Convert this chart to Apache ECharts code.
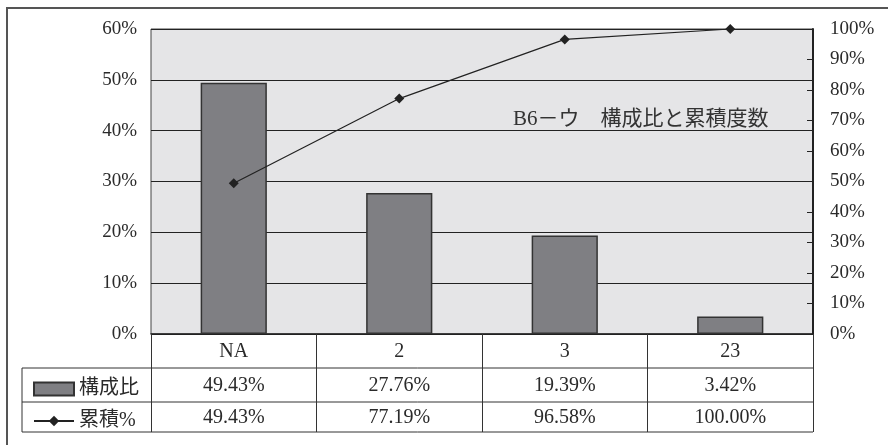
<!DOCTYPE html>
<html lang="ja">
<head>
<meta charset="UTF-8">
<title>B6－ウ 構成比と累積度数</title>
<script src="https://cdn.jsdelivr.net/npm/echarts@6/dist/echarts.min.js"></script>
<style>
  html, body { margin: 0; padding: 0; background: #fff; }
  #main { width: 888px; height: 445px; }
</style>
</head>
<body>
<div id="main"></div>
<script>
// データ
var categories = ['NA', '2', '3', '23'];
var shareValues = [49.43, 27.76, 19.39, 3.42];       // 構成比 (%)
var cumulativeValues = [49.43, 77.19, 96.58, 100.00]; // 累積 (%)
var leftTicks = [0, 10, 20, 30, 40, 50, 60];
var rightTicks = [0, 10, 20, 30, 40, 50, 60, 70, 80, 90, 100];

var FONT = '"Liberation Serif", "DejaVu Serif", "Noto Sans CJK JP", serif';
var INK = '#2a2a2a';

function pct(v) { return v.toFixed(2) + '%'; }

var myChart = echarts.init(document.getElementById('main'));

// 表の枠線（グリッドの下）
var gLeft = 151, gRight = 813, gBottom = 334, tableLeft = 22;
var rowLines = [368, 402, 432];
var tableLines = rowLines.map(function (y) {
    return {
        type: 'line',
        shape: { x1: tableLeft, y1: y, x2: gRight, y2: y },
        style: { stroke: '#333', lineWidth: 1 }
    };
});
tableLines.push({
    type: 'line',
    shape: { x1: tableLeft, y1: rowLines[0], x2: tableLeft, y2: rowLines[2] },
    style: { stroke: '#333', lineWidth: 1 }
});

var option = {
    animation: false,
    textStyle: { fontFamily: FONT, color: INK },
    title: {
        text: 'B6－ウ　構成比と累積度数',
        left: 508,
        top: 104,
        textStyle: { fontFamily: FONT, fontSize: 21, fontWeight: 'normal', color: '#333' }
    },
    legend: [{
        data: [{ name: '構成比', icon: 'rect' }],
        left: 28,
        top: 374,
        itemWidth: 40,
        itemHeight: 13,
        itemGap: 6,
        textStyle: { fontFamily: FONT, fontSize: 20, color: INK }
    }, {
        data: ['累積%'],
        left: 28,
        top: 406,
        itemWidth: 40,
        itemHeight: 13,
        textStyle: { fontFamily: FONT, fontSize: 20, color: INK }
    }],
    grid: {
        left: gLeft,
        right: 888 - gRight,
        top: 29,
        bottom: 445 - gBottom,
        show: true,
        backgroundColor: '#e5e5e7',
        borderColor: '#444',
        borderWidth: 1
    },
    xAxis: [{
        type: 'category',
        data: categories,
        position: 'bottom',
        axisLine: { show: true, lineStyle: { color: '#222', width: 1.5 } },
        axisTick: { show: true, inside: false, length: 98, lineStyle: { color: '#333', width: 1 } },
        axisLabel: { margin: 8, fontSize: 20, color: INK, fontFamily: FONT }
    }, {
        type: 'category',
        data: shareValues.map(pct),
        position: 'bottom',
        offset: 34,
        axisLine: { show: false },
        axisTick: { show: false },
        axisLabel: { margin: 8, fontSize: 20, color: INK, fontFamily: FONT }
    }, {
        type: 'category',
        data: cumulativeValues.map(pct),
        position: 'bottom',
        offset: 66,
        axisLine: { show: false },
        axisTick: { show: false },
        axisLabel: { margin: 8, fontSize: 20, color: INK, fontFamily: FONT }
    }],
    yAxis: [{
        type: 'value',
        min: leftTicks[0],
        max: leftTicks[leftTicks.length - 1],
        interval: 10,
        position: 'left',
        axisLine: { show: false },
        axisTick: { show: false },
        splitLine: { show: true, lineStyle: { color: '#222', width: 1 } },
        axisLabel: { margin: 14, fontSize: 19, color: INK, fontFamily: FONT, formatter: '{value}%' }
    }, {
        type: 'value',
        min: rightTicks[0],
        max: rightTicks[rightTicks.length - 1],
        interval: 10,
        position: 'right',
        axisLine: { show: true, lineStyle: { color: '#222', width: 2 } },
        axisTick: { show: true, inside: true, length: 6, lineStyle: { color: '#222' } },
        splitLine: { show: false },
        axisLabel: { margin: 17, fontSize: 19, color: INK, fontFamily: FONT, formatter: '{value}%' }
    }],
    series: [{
        name: '構成比',
        type: 'bar',
        xAxisIndex: 0,
        yAxisIndex: 0,
        barWidth: '40%',
        data: shareValues,
        itemStyle: { color: '#7f7f83', borderColor: '#333', borderWidth: 1.5 }
    }, {
        name: '累積%',
        type: 'line',
        xAxisIndex: 0,
        yAxisIndex: 1,
        data: cumulativeValues,
        symbol: 'diamond',
        symbolSize: 10,
        itemStyle: { color: '#222' },
        lineStyle: { color: '#222', width: 1.2 }
    }],
    graphic: [{
        type: 'rect',
        z: -10,
        shape: { x: 7, y: 8, width: 1000, height: 1000 },
        style: { fill: 'none', stroke: '#555', lineWidth: 2 }
    }].concat(tableLines)
};

myChart.setOption(option);
</script>
</body>
</html>
